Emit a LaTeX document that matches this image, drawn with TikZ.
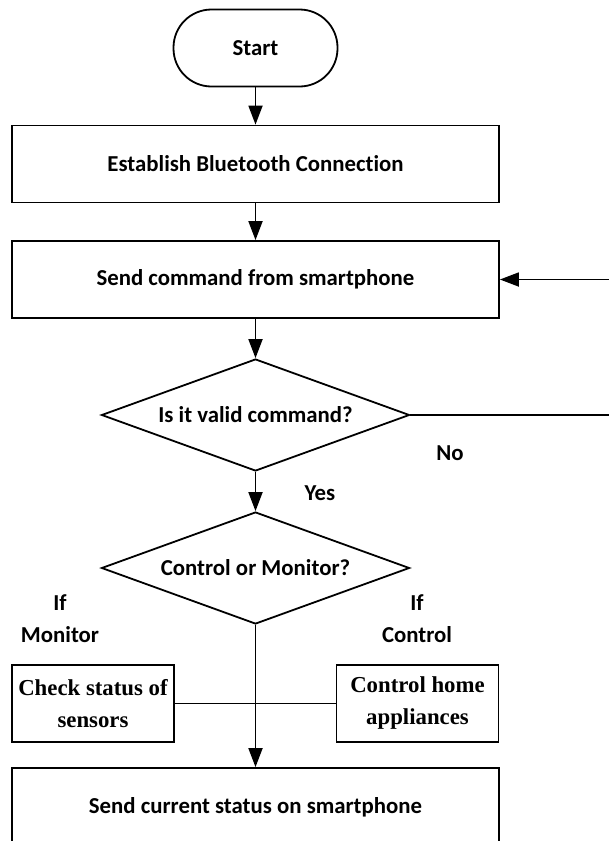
\documentclass[tikz,border=0pt]{standalone}
\usepackage{fontspec}
\setmainfont{Carlito}[Ligatures=NoCommon]
\newfontfamily\serifbf{Liberation Serif}
\usetikzlibrary{shapes.geometric, arrows.meta, positioning}

\begin{document}
\begin{tikzpicture}[x=1pt, y=-1pt, line width=1.8pt,
  font=\fontsize{22.8}{32}\selectfont\bfseries,
  term/.style={draw, rectangle, rounded corners=38pt, minimum width=164pt, minimum height=77pt},
  procbox/.style={draw, rectangle, minimum width=487pt, minimum height=77pt},
  smallbox/.style={draw, rectangle, minimum width=162pt, minimum height=77pt, align=center, inner sep=0pt,
    font=\serifbf\fontsize{22.8}{32}\selectfont\bfseries},
  decision/.style={draw, diamond, minimum width=308pt, minimum height=112pt, inner sep=0pt, aspect=2.75},
  flow/.style={-{Triangle[length=19pt, width=14pt]}},
  lbl/.style={align=center}
]
  \path[use as bounding box] (0,0) rectangle (609,841);
  \clip (0,0) rectangle (609,841);

  \node[term] (start) at (255.5,48) {Start};
  \node[procbox] (bt) at (255.5,164) {Establish Bluetooth Connection};
  \node[procbox] (cmd) at (255.5,279.5) {Send command from smartphone};
  \node[decision] (valid) at (255.5,415) {Is it valid command?};
  \node[decision] (mode) at (255.5,568) {Control or Monitor?};
  \node[smallbox] (sensors) at (93,703.5) {Check status of\\sensors};
  \node[smallbox] (appl) at (417.5,703.5) {Control home\\appliances};
  \node[procbox, minimum height=78pt] (status) at (255.5,807) {Send current status on smartphone};

  \node (no) at (450,453) {No};
  \node (yes) at (320,493) {Yes};
  \node[lbl] (ifmon) at (60,619) {If\\Monitor};
  \node[lbl] (ifctl) at (417,619) {If\\Control};

  \draw[flow] (start) -- (bt);
  \draw[flow] (bt) -- (cmd);
  \draw[flow] (cmd) -- (valid);
  \draw[flow] (valid) -- (mode);
  \draw[flow] (mode) -- (status);
  \draw (sensors) -- (appl);
  % back to the command box (leaves the page on the right)
  \draw[flow] (valid.east) -- ++(225,0) |- (cmd.east);
\end{tikzpicture}
\end{document}
